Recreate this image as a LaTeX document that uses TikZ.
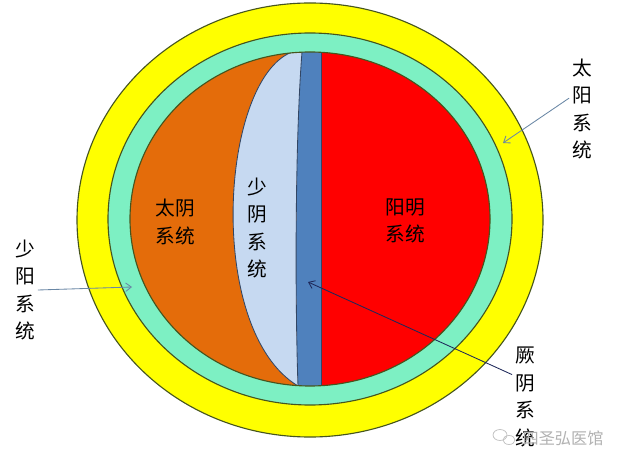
\documentclass[tikz,border=0pt]{standalone}
\usepackage{xcolor}
\usepackage{tikz}
\usepackage{fontspec}
\setmainfont{Noto Sans CJK SC}
\usetikzlibrary{arrows.meta}

\definecolor{ringyellow}{RGB}{255,255,0}
\definecolor{ringmint}{RGB}{125,240,195}
\definecolor{ringline}{RGB}{70,85,30}
\definecolor{taiyinorange}{RGB}{228,108,10}
\definecolor{shaoyinblue}{RGB}{198,217,241}
\definecolor{jueyinblue}{RGB}{79,129,189}
\definecolor{yangmingred}{RGB}{255,0,0}
\definecolor{lensline}{RGB}{50,70,100}
\definecolor{arrowgray}{RGB}{105,135,165}
\definecolor{arrownavy}{RGB}{30,40,90}

\tikzset{
  sys/.style={align=center,inner sep=2pt,font=\fontsize{14}{19.5}\selectfont},
  pointer/.style={->,>={Straight Barb[length=4pt,width=6pt]},line width=0.6pt,draw=arrowgray},
}

\begin{document}
\begin{tikzpicture}[x=0.025cm,y=-0.025cm]
\fill[white] (0,0) rectangle (622,464);
\useasboundingbox (0,0) rectangle (622,464);
% outer rings
\filldraw[fill=ringyellow,draw=ringline,line width=0.8pt] (310,220) ellipse (233 and 217);
\filldraw[fill=ringmint,draw=ringline,line width=0.8pt] (310,219) ellipse (202 and 186);
% inner disc
\begin{scope}
\clip (310,219) ellipse (180 and 167);
\fill[taiyinorange] (120,40) rectangle (500,400);
\fill[yangmingred] (321,40) rectangle (500,400);
\fill[jueyinblue] (302,45) .. controls (295,140) and (295,300) .. (298,395) -- (321,395) -- (321,45) -- cycle;
\filldraw[fill=shaoyinblue,draw=lensline,line width=0.6pt] (292,52) .. controls (220,80) and (205,330) .. (298,386)
  .. controls (295,300) and (295,140) .. (302,52) -- cycle;
\draw[lensline,line width=0.4pt] (321,45) -- (321,395);
\end{scope}
\draw[ringline,line width=0.8pt] (310,219) ellipse (180 and 167);
% labels
\node[sys] (taiyin) at (175,222) {太阴\\系统};
\node[sys] (shaoyin) at (257,228) {少\\阴\\系\\统};
\node[sys] (yangming) at (405,221) {阳明\\系统};
\node[sys] (shaoyang) at (25,290) {少\\阳\\系\\统};
\node[sys] (taiyang) at (582,109) {太\\阳\\系\\统};
\node[sys] (jueyin) at (525,397) {厥\\阴\\系\\统};
% arrows
\coordinate (shaoyangtip) at (132,287);
\coordinate (taiyangtip) at (503,143);
\coordinate (jueyintip) at (308,282);
\draw[pointer] (shaoyang.east) -- (shaoyangtip);
\draw[pointer] (taiyang.140) -- (taiyangtip);
\draw[pointer,draw=arrownavy] (jueyin.120) -- (jueyintip);
% watermark
\draw[gray!50,line width=0.5pt] (500,435) ellipse (7 and 5.5);
\draw[gray!50,line width=0.5pt] (509,440) ellipse (6 and 4.5);
\node[text=gray!60,font=\fontsize{11.5}{12}\selectfont] (watermark) at (563,438) {四圣弘医馆};
\end{tikzpicture}
\end{document}
